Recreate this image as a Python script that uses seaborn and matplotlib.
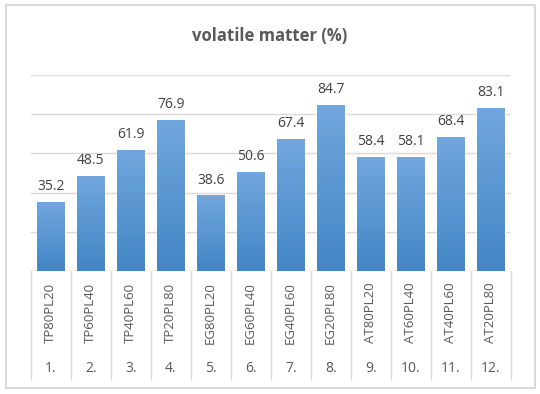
import numpy as np
import pandas as pd
import matplotlib
matplotlib.use("Agg")
import matplotlib.pyplot as plt
from matplotlib.patches import Rectangle
import seaborn as sns

# chart data
samples = ["TP80PL20", "TP60PL40", "TP40PL60", "TP20PL80",
           "EG80PL20", "EG60PL40", "EG40PL60", "EG20PL80",
           "AT80PL20", "AT60PL40", "AT40PL60", "AT20PL80"]
numbers = ["1.", "2.", "3.", "4.", "5.", "6.", "7.", "8.", "9.", "10.", "11.", "12."]
volatile = [35.2, 48.5, 61.9, 76.9, 38.6, 50.6, 67.4, 84.7, 58.4, 58.1, 68.4, 83.1]

df = pd.DataFrame({"sample": samples, "value": volatile})

sns.set_style("white")
plt.rcParams["font.family"] = ["Open Sans", "DejaVu Sans"]

W, H = 540, 394
fig = plt.figure(figsize=(W / 100, H / 100), dpi=100)
ax = fig.add_axes([30.7 / W, 1 - 271 / H, 480 / W, 196 / H])

sns.barplot(data=df, x="sample", y="value", color="#5b9bd5", width=0.7,
            saturation=1, ax=ax)

# vertical gradient on each bar
grad = np.linspace(0, 1, 256).reshape(-1, 1)
cmap = matplotlib.colors.LinearSegmentedColormap.from_list("bar", ["#4385c6", "#71a7dd"])
for p in ax.patches:
    x0, y0 = p.get_x(), p.get_y()
    w, h = p.get_width(), p.get_height()
    im = ax.imshow(grad, cmap=cmap, aspect="auto", origin="lower",
                   extent=[x0, x0 + w, y0, y0 + h], zorder=p.get_zorder() + 0.1)
    im.set_clip_path(p)
    ax.text(x0 + w / 2, h + 4, f"{h:.1f}", ha="center", va="bottom",
            fontsize=10, color="#404040")

ax.set_xlim(-0.5, len(samples) - 0.5)
ax.set_ylim(0, 100)
ax.set_yticks([0, 20, 40, 60, 80, 100])
ax.yaxis.grid(True, color="#d9d9d9", linewidth=1)
ax.set_axisbelow(True)
for s in ax.spines.values():
    s.set_visible(False)
ax.set_xticks([])
ax.set_yticklabels([])
ax.tick_params(left=False, bottom=False)
ax.set_xlabel("")
ax.set_ylabel("")

# two-level category axis
trans = matplotlib.transforms.blended_transform_factory(ax.transData, ax.transAxes)
for i, (name, num) in enumerate(zip(samples, numbers)):
    ax.text(i, -0.215, name, rotation=90, ha="center", va="center",
            fontsize=9.5, color="#595959", transform=trans)
    ax.text(i, -0.495, num, ha="center", va="center",
            fontsize=10, color="#595959", transform=trans)
for b in np.arange(-0.5, len(samples), 1.0):
    ax.plot([b, b], [0, -0.551], color="#d9d9d9", linewidth=1,
            transform=trans, clip_on=False)

fig.text(0.5, 1 - 36 / H, "volatile matter (%)", ha="center", va="center",
         fontsize=12, fontweight="bold", color="#595959")

# chart border
fig.patches.append(Rectangle((6 / W, 1 - 388 / H), 529 / W, 383 / H,
                             transform=fig.transFigure, fill=False,
                             edgecolor="#d9d9d9", linewidth=1.5))

fig.savefig("out.png", dpi=100)
